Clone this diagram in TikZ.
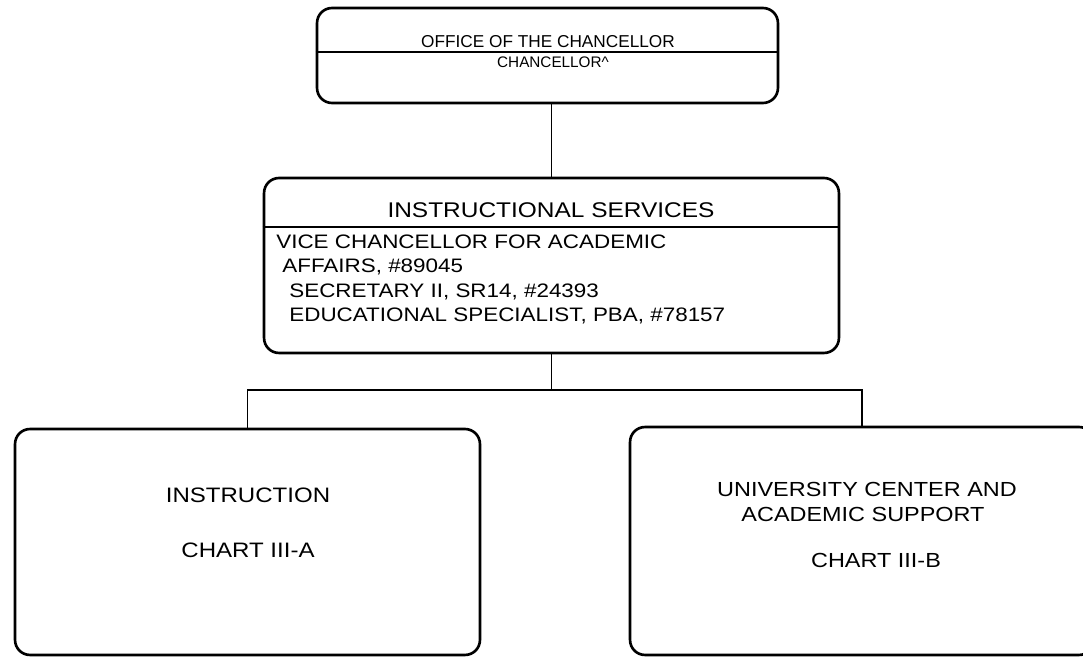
\documentclass[tikz,border=0pt]{standalone}
\usepackage{fontspec}
\setmainfont{Liberation Sans}
\newfontfamily\wideff[FakeStretch=1.15]{Liberation Sans}
\usetikzlibrary{calc}

\begin{document}
\begin{tikzpicture}[x=0.02cm,y=-0.02cm,
  unitbox/.style={draw,line width=1.5pt,rounded corners=0.3cm,inner sep=0pt},
  link/.style={line width=1pt},
  txt/.style={anchor=base,inner sep=0pt}]
\useasboundingbox (0,0) rectangle (1083,658);
\clip (0,0) rectangle (1083,658);

\node[unitbox,minimum width=9.22cm,minimum height=1.9cm] (chancellor) at (547.5,55.5) {};
\node[unitbox,minimum width=11.5cm,minimum height=3.5cm] (services) at (551.5,265.5) {};
\node[unitbox,minimum width=9.3cm,minimum height=4.52cm] (instruction) at (247.5,542) {};
\node[unitbox,minimum width=9.28cm,minimum height=4.56cm] (support) at (862,541) {};

\draw[line width=.7pt] (chancellor.west |- 0,52) -- (chancellor.east |- 0,52);
\draw[line width=.7pt] (services.west |- 0,227) -- (services.east |- 0,227);

\node[txt] (office) at (548,47.5) {\fontsize{9.8}{12}\selectfont OFFICE OF THE CHANCELLOR};
\node[txt] (chanc) at (553,68) {\fontsize{8.7}{10}\selectfont CHANCELLOR\textasciicircum};

\node[txt] (svc) at (551,218) {\wideff\fontsize{12.1}{14}\selectfont INSTRUCTIONAL SERVICES};
\node[txt,anchor=base west] (vca) at (276,249) {\wideff\fontsize{11.1}{13}\selectfont VICE CHANCELLOR FOR ACADEMIC};
\node[txt,anchor=base west] (aff) at (282,273) {\wideff\fontsize{11.1}{13}\selectfont AFFAIRS, \#89045};
\node[txt,anchor=base west] (sec) at (289,298) {\wideff\fontsize{11.1}{13}\selectfont SECRETARY II, SR14, \#24393};
\node[txt,anchor=base west] (edu) at (289,322) {\wideff\fontsize{11.1}{13}\selectfont EDUCATIONAL SPECIALIST, PBA, \#78157};

\node[txt] (instr) at (248,503) {\wideff\fontsize{11.9}{14}\selectfont INSTRUCTION};
\node[txt] (charta) at (248,558) {\wideff\fontsize{11.9}{14}\selectfont CHART III-A};

\node[txt] (univ) at (867,497) {\wideff\fontsize{11.6}{14}\selectfont UNIVERSITY CENTER AND};
\node[txt] (acad) at (863,522) {\wideff\fontsize{11.6}{14}\selectfont ACADEMIC SUPPORT};
\node[txt] (chartb) at (876,568) {\wideff\fontsize{11.6}{14}\selectfont CHART III-B};

\draw[link] (services.north) -- (services.north |- chancellor.south);
\draw[link] (services.south) -- (services.south |- 0,390) coordinate (bus);
\draw[link] (bus) -| (instruction.north);
\draw[link] (bus) -| (support.north);

\end{tikzpicture}
\end{document}
